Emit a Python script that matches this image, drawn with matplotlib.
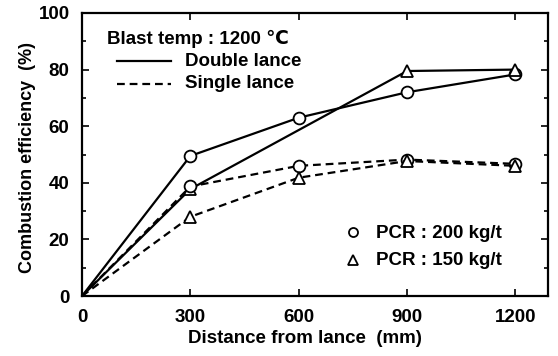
import matplotlib
matplotlib.use("Agg")
import matplotlib.pyplot as plt
from matplotlib.ticker import MultipleLocator

plt.rcParams['font.family'] = ['Liberation Sans', 'DejaVu Sans']
plt.rcParams['font.weight'] = 'bold'

# Data
dist_double_200 = [0, 300, 600, 900, 1200]
double_200 = [0, 49.5, 63, 72, 78.3]
dist_double_150 = [0, 300, 900, 1200]
double_150 = [0, 37.8, 79.5, 80]
dist_single = [0, 300, 600, 900, 1200]
single_200 = [0, 38.7, 46, 48.2, 46.7]
single_150 = [0, 28, 41.8, 47.7, 46]

xticks = [0, 300, 600, 900, 1200]
yticks = [0, 20, 40, 60, 80, 100]

FS = 13.5

fig = plt.figure(figsize=(5.58, 3.56), dpi=100)
ax = fig.add_axes([0.147, 0.1685, 0.835, 0.795])

dash = (0, (3.5, 2.2))
ms = 8.5
mew = 1.3
lw = 1.6

ax.plot(dist_double_200, double_200, color='black', lw=lw, marker='o', ms=ms,
        mfc='white', mec='black', mew=mew, markevery=[1, 2, 3, 4], zorder=3)
ax.plot(dist_double_150, double_150, color='black', lw=lw, marker='^', ms=ms,
        mfc='white', mec='black', mew=mew, markevery=[1, 2, 3], zorder=3)
ax.plot(dist_single, single_200, color='black', lw=lw, ls=dash, marker='o', ms=ms,
        mfc='white', mec='black', mew=mew, markevery=[1, 2, 3, 4], zorder=3)
ax.plot(dist_single, single_150, color='black', lw=lw, ls=dash, marker='^', ms=ms,
        mfc='white', mec='black', mew=mew, markevery=[1, 2, 3, 4], zorder=3)

ax.set_xlim(0, 1290)
ax.set_ylim(0, 100)
ax.set_xticks(xticks)
ax.set_yticks(yticks)
ax.yaxis.set_minor_locator(MultipleLocator(10))
ax.tick_params(which='both', direction='in', top=True, right=True, width=1.2)
ax.tick_params(which='major', length=5, labelsize=FS)
ax.tick_params(axis='x', which='major', pad=9)
ax.tick_params(axis='y', which='major', pad=9)
ax.tick_params(which='minor', length=3)
for lab in ax.get_xticklabels() + ax.get_yticklabels():
    lab.set_fontweight('bold')
for s in ax.spines.values():
    s.set_linewidth(1.6)

ax.set_xlabel('Distance from lance  (mm)', fontsize=FS, fontweight='bold', labelpad=3)
ax.xaxis.label.set_x(0.478)
ax.set_ylabel('Combustion efficiency  (%)', fontsize=13, fontweight='bold', labelpad=2)
ax.yaxis.label.set_y(0.49)

# Upper legend
ax.text(0.053, 0.91, 'Blast temp : 1200 ℃', transform=ax.transAxes, fontsize=FS,
        fontweight='bold', va='center', ha='left')
ax.plot([0.075, 0.19], [0.83, 0.83], transform=ax.transAxes, color='black', lw=lw)
ax.text(0.222, 0.83, 'Double lance', transform=ax.transAxes, fontsize=FS,
        fontweight='bold', va='center', ha='left')
ax.plot([0.075, 0.19], [0.75, 0.75], transform=ax.transAxes, color='black', lw=lw, ls=dash)
ax.text(0.222, 0.75, 'Single lance', transform=ax.transAxes, fontsize=FS,
        fontweight='bold', va='center', ha='left')

# Lower legend
ax.plot([0.582], [0.225], transform=ax.transAxes, marker='o', ms=6.5, mfc='white',
        mec='black', mew=mew, ls='none')
ax.text(0.632, 0.22, 'PCR : 200 kg/t', transform=ax.transAxes, fontsize=FS,
        fontweight='bold', va='center', ha='left')
ax.plot([0.582], [0.128], transform=ax.transAxes, marker='^', ms=6.5, mfc='white',
        mec='black', mew=mew, ls='none')
ax.text(0.632, 0.125, 'PCR : 150 kg/t', transform=ax.transAxes, fontsize=FS,
        fontweight='bold', va='center', ha='left')

fig.savefig('out.png', dpi=100)
